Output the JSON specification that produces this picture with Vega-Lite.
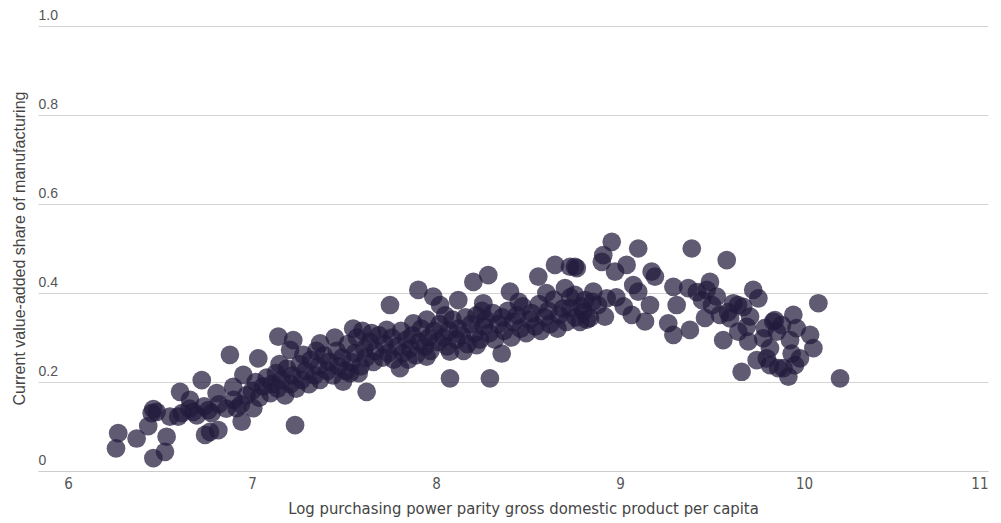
{
  "$schema": "https://vega.github.io/schema/vega-lite/v6.json",
  "width": 950,
  "height": 445,
  "autosize": "none",
  "padding": {"left": 38, "top": 26, "right": 13, "bottom": 52},
  "background": "white",
  "config": {"view": {"stroke": null}},
  "data": {"values": [
    {"gdp":6.273,"share":0.085},{"gdp":6.261,"share":0.051},{"gdp":6.373,"share":0.073},{"gdp":6.436,"share":0.101},
    {"gdp":6.464,"share":0.139},{"gdp":6.455,"share":0.130},{"gdp":6.482,"share":0.133},{"gdp":6.536,"share":0.077},
    {"gdp":6.527,"share":0.043},{"gdp":6.464,"share":0.029},{"gdp":6.554,"share":0.122},{"gdp":6.599,"share":0.122},
    {"gdp":6.609,"share":0.178},{"gdp":6.663,"share":0.160},{"gdp":6.681,"share":0.133},{"gdp":6.727,"share":0.204},
    {"gdp":6.745,"share":0.081},{"gdp":6.772,"share":0.088},{"gdp":6.763,"share":0.137},{"gdp":6.817,"share":0.092},
    {"gdp":6.808,"share":0.175},{"gdp":6.880,"share":0.261},{"gdp":6.898,"share":0.189},{"gdp":6.953,"share":0.216},
    {"gdp":6.917,"share":0.141},{"gdp":6.944,"share":0.111},{"gdp":7.034,"share":0.253},{"gdp":7.007,"share":0.141},
    {"gdp":7.234,"share":0.103},{"gdp":7.143,"share":0.302},{"gdp":7.224,"share":0.294},{"gdp":7.207,"share":0.272},
    {"gdp":7.279,"share":0.261},{"gdp":7.370,"share":0.287},
    {"gdp":6.62,"share":0.13},{"gdp":6.66,"share":0.14},{"gdp":6.70,"share":0.125},{"gdp":6.74,"share":0.145},
    {"gdp":6.78,"share":0.13},{"gdp":6.82,"share":0.15},{"gdp":6.86,"share":0.14},{"gdp":6.90,"share":0.16},
    {"gdp":6.94,"share":0.15},{"gdp":6.97,"share":0.17},
    {"gdp":7.750,"share":0.373},{"gdp":7.904,"share":0.407},{"gdp":7.985,"share":0.392},{"gdp":8.022,"share":0.373},
    {"gdp":8.121,"share":0.384},{"gdp":8.203,"share":0.425},{"gdp":8.284,"share":0.440},{"gdp":8.076,"share":0.208},
    {"gdp":8.293,"share":0.208},{"gdp":7.623,"share":0.178},{"gdp":7.877,"share":0.332},{"gdp":7.732,"share":0.317},
    {"gdp":8.556,"share":0.437},{"gdp":8.647,"share":0.463},{"gdp":8.728,"share":0.459},{"gdp":8.765,"share":0.456},
    {"gdp":8.701,"share":0.411},{"gdp":8.402,"share":0.403},{"gdp":8.257,"share":0.377},{"gdp":8.357,"share":0.264},
    {"gdp":8.221,"share":0.283},{"gdp":8.076,"share":0.268},{"gdp":7.949,"share":0.257},{"gdp":7.804,"share":0.231},
    {"gdp":7.533,"share":0.220},{"gdp":7.495,"share":0.201},{"gdp":7.55,"share":0.32},{"gdp":7.60,"share":0.315},
    {"gdp":8.955,"share":0.515},{"gdp":9.099,"share":0.500},{"gdp":8.909,"share":0.485},{"gdp":8.901,"share":0.470},
    {"gdp":8.755,"share":0.459},{"gdp":9.036,"share":0.463},{"gdp":8.973,"share":0.448},{"gdp":9.172,"share":0.448},
    {"gdp":9.190,"share":0.437},{"gdp":9.390,"share":0.500},{"gdp":9.580,"share":0.474},{"gdp":9.290,"share":0.414},
    {"gdp":9.371,"share":0.411},{"gdp":9.471,"share":0.407},{"gdp":9.489,"share":0.425},{"gdp":9.526,"share":0.392},
    {"gdp":9.724,"share":0.407},{"gdp":9.752,"share":0.388},{"gdp":10.078,"share":0.377},{"gdp":9.616,"share":0.377},
    {"gdp":9.670,"share":0.369},{"gdp":9.308,"share":0.373},{"gdp":9.262,"share":0.332},{"gdp":9.290,"share":0.306},
    {"gdp":9.380,"share":0.317},{"gdp":9.064,"share":0.351},{"gdp":9.136,"share":0.336},{"gdp":9.163,"share":0.373},
    {"gdp":9.099,"share":0.403},{"gdp":9.072,"share":0.418},{"gdp":8.918,"share":0.347},{"gdp":8.855,"share":0.403},
    {"gdp":8.801,"share":0.358},{"gdp":8.928,"share":0.388},{"gdp":8.755,"share":0.396},{"gdp":9.561,"share":0.294},
    {"gdp":9.543,"share":0.351},{"gdp":9.598,"share":0.343},{"gdp":9.707,"share":0.347},{"gdp":9.833,"share":0.336},
    {"gdp":9.852,"share":0.313},{"gdp":9.942,"share":0.351},{"gdp":9.960,"share":0.321},{"gdp":10.033,"share":0.306},
    {"gdp":10.051,"share":0.276},{"gdp":9.978,"share":0.253},{"gdp":9.933,"share":0.264},{"gdp":9.888,"share":0.231},
    {"gdp":9.915,"share":0.212},{"gdp":9.815,"share":0.238},{"gdp":9.743,"share":0.249},{"gdp":9.661,"share":0.223},
    {"gdp":9.697,"share":0.291},{"gdp":9.779,"share":0.298},{"gdp":9.815,"share":0.276},{"gdp":10.196,"share":0.208},
    {"gdp":9.643,"share":0.313},{"gdp":9.842,"share":0.339},{"gdp":9.798,"share":0.253},{"gdp":9.860,"share":0.231},
    {"gdp":9.689,"share":0.324},{"gdp":8.810,"share":0.384},{"gdp":8.837,"share":0.344},{"gdp":8.880,"share":0.373},
    {"gdp":8.783,"share":0.335},{"gdp":8.728,"share":0.366},{"gdp":9.418,"share":0.402},{"gdp":9.446,"share":0.384},
    {"gdp":9.587,"share":0.357},{"gdp":9.641,"share":0.373},{"gdp":9.500,"share":0.373},{"gdp":9.462,"share":0.344},
    {"gdp":9.880,"share":0.328},{"gdp":9.788,"share":0.321},{"gdp":9.924,"share":0.294},{"gdp":9.951,"share":0.238},
    {"gdp":8.98,"share":0.39},{"gdp":9.02,"share":0.37},
    {"gdp":7.00,"share":0.180},{"gdp":7.02,"share":0.200},{"gdp":7.04,"share":0.165},{"gdp":7.06,"share":0.190},
    {"gdp":7.08,"share":0.210},{"gdp":7.10,"share":0.175},{"gdp":7.11,"share":0.195},{"gdp":7.13,"share":0.220},
    {"gdp":7.14,"share":0.185},{"gdp":7.16,"share":0.205},{"gdp":7.18,"share":0.170},{"gdp":7.19,"share":0.230},
    {"gdp":7.21,"share":0.195},{"gdp":7.22,"share":0.215},{"gdp":7.24,"share":0.185},{"gdp":7.26,"share":0.240},
    {"gdp":7.27,"share":0.205},{"gdp":7.29,"share":0.225},{"gdp":7.31,"share":0.195},{"gdp":7.32,"share":0.250},
    {"gdp":7.34,"share":0.215},{"gdp":7.36,"share":0.235},{"gdp":7.37,"share":0.205},{"gdp":7.39,"share":0.260},
    {"gdp":7.41,"share":0.225},{"gdp":7.42,"share":0.245},{"gdp":7.44,"share":0.215},{"gdp":7.46,"share":0.270},
    {"gdp":7.47,"share":0.235},{"gdp":7.49,"share":0.255},{"gdp":7.51,"share":0.225},{"gdp":7.52,"share":0.285},
    {"gdp":7.54,"share":0.245},{"gdp":7.56,"share":0.265},{"gdp":7.57,"share":0.300},{"gdp":7.59,"share":0.235},
    {"gdp":7.61,"share":0.275},{"gdp":7.62,"share":0.255},{"gdp":7.64,"share":0.290},{"gdp":7.66,"share":0.245},
    {"gdp":7.67,"share":0.270},{"gdp":7.69,"share":0.305},{"gdp":7.71,"share":0.255},{"gdp":7.72,"share":0.285},
    {"gdp":7.74,"share":0.265},{"gdp":7.76,"share":0.300},{"gdp":7.77,"share":0.250},{"gdp":7.79,"share":0.280},
    {"gdp":7.81,"share":0.315},{"gdp":7.82,"share":0.265},{"gdp":7.84,"share":0.295},{"gdp":7.86,"share":0.275},
    {"gdp":7.87,"share":0.305},{"gdp":7.89,"share":0.260},{"gdp":7.91,"share":0.290},{"gdp":7.92,"share":0.320},
    {"gdp":7.94,"share":0.280},{"gdp":7.96,"share":0.300},{"gdp":7.97,"share":0.270},{"gdp":7.99,"share":0.315},
    {"gdp":8.01,"share":0.290},{"gdp":8.02,"share":0.330},{"gdp":8.04,"share":0.300},{"gdp":8.06,"share":0.280},
    {"gdp":8.07,"share":0.315},{"gdp":8.09,"share":0.340},{"gdp":8.11,"share":0.295},{"gdp":8.12,"share":0.320},
    {"gdp":8.14,"share":0.305},{"gdp":8.16,"share":0.345},{"gdp":8.17,"share":0.285},{"gdp":8.19,"share":0.330},
    {"gdp":8.21,"share":0.310},{"gdp":8.22,"share":0.350},{"gdp":8.24,"share":0.295},{"gdp":8.26,"share":0.325},
    {"gdp":8.27,"share":0.340},{"gdp":8.29,"share":0.310},{"gdp":8.31,"share":0.355},{"gdp":8.32,"share":0.295},
    {"gdp":8.34,"share":0.330},{"gdp":8.36,"share":0.345},{"gdp":8.37,"share":0.315},{"gdp":8.39,"share":0.360},
    {"gdp":8.41,"share":0.300},{"gdp":8.42,"share":0.335},{"gdp":8.44,"share":0.350},{"gdp":8.46,"share":0.320},
    {"gdp":8.47,"share":0.370},{"gdp":8.49,"share":0.310},{"gdp":8.51,"share":0.340},{"gdp":8.52,"share":0.355},
    {"gdp":8.54,"share":0.325},{"gdp":8.56,"share":0.375},{"gdp":8.57,"share":0.315},{"gdp":8.59,"share":0.345},
    {"gdp":8.61,"share":0.360},{"gdp":8.62,"share":0.330},{"gdp":8.64,"share":0.385},{"gdp":8.66,"share":0.320},
    {"gdp":8.67,"share":0.350},{"gdp":8.69,"share":0.365},{"gdp":8.71,"share":0.335},{"gdp":8.73,"share":0.390},
    {"gdp":8.76,"share":0.345},{"gdp":8.79,"share":0.370},{"gdp":8.82,"share":0.340},{"gdp":8.85,"share":0.380},
    {"gdp":7.45,"share":0.30},{"gdp":7.65,"share":0.31},{"gdp":7.35,"share":0.27},{"gdp":7.85,"share":0.25},
    {"gdp":8.05,"share":0.35},{"gdp":8.25,"share":0.36},{"gdp":8.45,"share":0.38},{"gdp":8.6,"share":0.40},
    {"gdp":7.15,"share":0.24},{"gdp":7.58,"share":0.22},{"gdp":7.95,"share":0.34},{"gdp":8.15,"share":0.27}
  ]},
  "mark": {"type": "circle", "size": 350, "color": "#221a3c", "opacity": 0.72},
  "encoding": {
    "x": {
      "field": "gdp", "type": "quantitative",
      "scale": {"domain": [5.837, 11], "nice": false, "zero": false},
      "axis": {
        "values": [6, 7, 8, 9, 10, 11],
        "grid": false, "ticks": false, "domain": true, "domainColor": "#cccccc",
        "labelFont": "'DejaVu Sans Condensed', 'Liberation Sans Narrow', Roboto, sans-serif", "labelFontSize": 15, "labelColor": "#555555",
        "labelPadding": 5,
        "title": "Log purchasing power parity gross domestic product per capita",
        "titleFont": "'DejaVu Sans Condensed', 'Liberation Sans Narrow', Roboto, sans-serif", "titleFontSize": 16.5, "titleFontWeight": "normal",
        "titleColor": "#444444", "titleX": 485, "titleY": 37, "titleBaseline": "middle"
      }
    },
    "y": {
      "field": "share", "type": "quantitative",
      "scale": {"domain": [0, 1], "nice": false},
      "axis": {
        "values": [0, 0.2, 0.4, 0.6, 0.8, 1.0],
        "labelExpr": "datum.value == 0 ? '0' : format(datum.value, '.1f')",
        "grid": true, "gridColor": "#d4d4d4", "gridWidth": 1,
        "ticks": false, "domain": false,
        "labelAlign": "left", "labelBaseline": "bottom", "labelPadding": 0, "labelOffset": -4,
        "labelFont": "Liberation Sans", "labelFontSize": 14, "labelColor": "#555555",
        "title": "Current value-added share of manufacturing",
        "titleFont": "Liberation Sans", "titleFontSize": 16, "titleFontWeight": "normal",
        "titleColor": "#444444", "titleX": -19, "titleY": 222, "titleAngle": -90,
        "titleAlign": "center", "titleBaseline": "middle"
      }
    }
  }
}
